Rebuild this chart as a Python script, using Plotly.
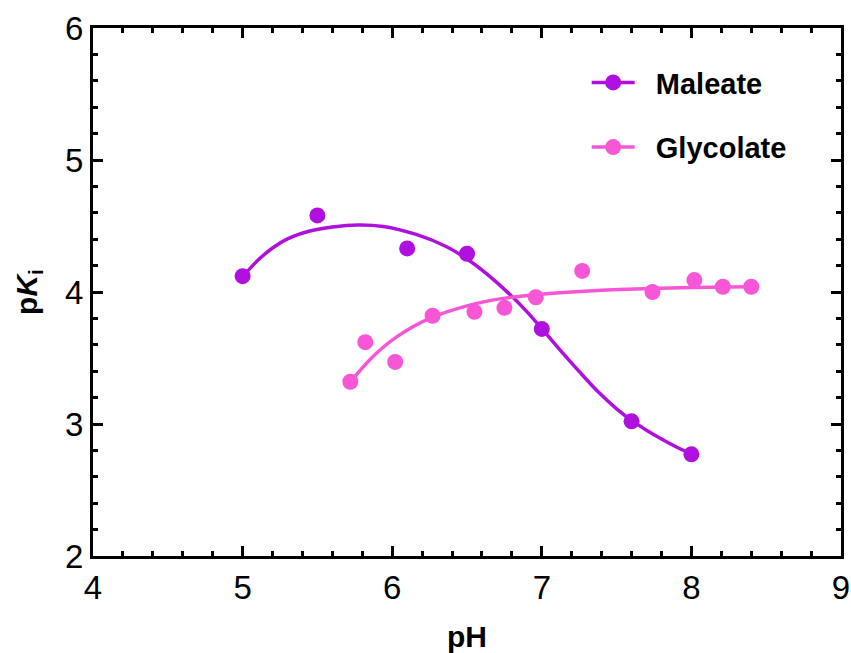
import plotly.graph_objects as go

# Data points
maleate_ph = [5.0, 5.5, 6.1, 6.5, 7.0, 7.6, 8.0]
maleate_pki = [4.12, 4.58, 4.33, 4.29, 3.72, 3.02, 2.77]

glycolate_ph = [5.72, 5.82, 6.02, 6.27, 6.55, 6.75, 6.96, 7.27, 7.74, 8.02, 8.21, 8.40]
glycolate_pki = [3.32, 3.62, 3.47, 3.82, 3.85, 3.88, 3.96, 4.16, 4.00, 4.09, 4.04, 4.04]

# Fitted curves, sampled from the chart
maleate_fit_ph = [5.0, 5.1, 5.2, 5.3, 5.45, 5.6, 5.77, 5.94, 6.16, 6.36, 6.5, 6.63, 6.77, 6.9,
                  7.0, 7.13, 7.26, 7.38, 7.5, 7.6, 7.7, 7.8, 7.9, 8.0]
maleate_fit_pki = [4.116, 4.238, 4.333, 4.402, 4.462, 4.492, 4.508, 4.497, 4.436, 4.345, 4.25, 4.139,
                   3.999, 3.851, 3.722, 3.55, 3.385, 3.24, 3.115, 3.027, 2.953, 2.886, 2.826, 2.773]

glycolate_fit_ph = [5.72, 5.87, 6.03, 6.25, 6.5, 6.72, 6.96, 7.37, 7.74, 8.12, 8.4]
glycolate_fit_pki = [3.32, 3.51, 3.66, 3.80, 3.895, 3.948, 3.98, 4.012, 4.027, 4.036, 4.04]

series_names = ["Maleate", "Glycolate"]
colors = ["#AF0FDF", "#F756D7"]

fig = go.Figure()

fits = [(maleate_fit_ph, maleate_fit_pki), (glycolate_fit_ph, glycolate_fit_pki)]
pts = [(maleate_ph, maleate_pki), (glycolate_ph, glycolate_pki)]

for i, name in enumerate(series_names):
    fx, fy = fits[i]
    px, py = pts[i]
    fig.add_trace(go.Scatter(x=fx, y=fy, mode="lines",
                             line=dict(color=colors[i], width=3.5, shape="spline", smoothing=0.8),
                             showlegend=False, hoverinfo="skip"))
    fig.add_trace(go.Scatter(x=px, y=py, mode="markers",
                             marker=dict(color=colors[i], size=16),
                             showlegend=False))
    fig.add_trace(go.Scatter(x=[None], y=[None], mode="lines+markers",
                             name="\u00a0\u00a0" + name,
                             legendgroup=name,
                             line=dict(color=colors[i], width=3.5),
                             marker=dict(color=colors[i], size=16)))

axis_common = dict(
    showline=True, linecolor="black", linewidth=3, mirror="allticks",
    ticks="inside", ticklen=10, tickwidth=2.5, tickcolor="black",
    showgrid=False, zeroline=False, dtick=1, automargin=False,
    tickfont=dict(family="Liberation Sans, Arial", size=33, color="black"),
    minor=dict(ticks="inside", ticklen=5, tickwidth=2.5, tickcolor="black", dtick=0.2, showgrid=False),
)

fig.update_xaxes(range=[4, 9], tick0=4, **axis_common,
                 title=dict(text="<b>pH</b>", font=dict(family="Liberation Sans, Arial", size=30, color="black"),
                            standoff=23))
fig.update_yaxes(range=[2, 6], tick0=2, **axis_common,
                 title=dict(text="<b>p<i>K</i><sub>i</sub></b>", font=dict(family="Liberation Sans, Arial", size=30, color="black"),
                            standoff=19))

fig.update_layout(
    width=851, height=653,
    margin=dict(l=93, r=10, t=28, b=97),
    paper_bgcolor="white", plot_bgcolor="white",
    legend=dict(x=0.66, y=0.945, xanchor="left", yanchor="top",
                font=dict(family="Liberation Sans, Arial", size=29, color="black", weight="bold"),
                bgcolor="rgba(0,0,0,0)", traceorder="grouped", tracegroupgap=24, itemwidth=43),
)

fig.write_html("out.html")
